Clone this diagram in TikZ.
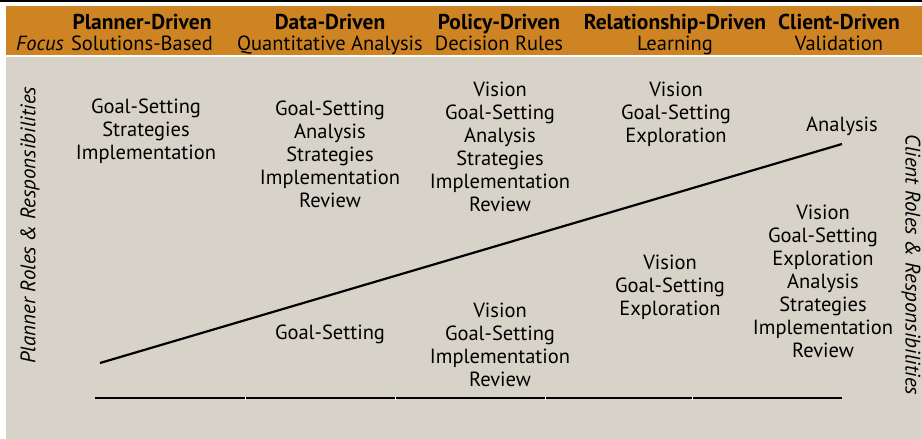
\documentclass[tikz,border=0pt]{standalone}
\usepackage{fontspec}
\setmainfont{PT Sans}
\usepackage{tikz}
\usetikzlibrary{positioning}

\definecolor{bandorange}{HTML}{CE8422}
\definecolor{panelgray}{HTML}{D7D3C8}

\tikzset{
	roles/.style={align=center, font=\fontsize{20.5}{23}\selectfont, inner sep=0pt},
	head/.style={font=\fontsize{21.5}{22}\selectfont\bfseries, inner sep=0pt},
	sub/.style={font=\fontsize{20.5}{22}\selectfont, inner sep=0pt},
	side/.style={font=\fontsize{21}{22}\selectfont\itshape, inner sep=0pt}
}

\begin{document}
\begin{tikzpicture}[x=1pt, y=-1pt]
	\useasboundingbox (0,0) rectangle (922,439);

	% Background
	\fill[white] (0,0) rectangle (922,439);
	\draw[line width=1.6pt] (0,1) -- (922,1);
	\fill[bandorange] (6,6) rectangle (922,55);
	\fill[panelgray] (6,57) rectangle (922,439);

	% Header
	\node[sub, anchor=base] (focus) at (40,50) {\itshape Focus};
	\node[head, anchor=base] (planner) at (142,29) {Planner-Driven};
	\node[head, anchor=base] (data) at (330,29) {Data-Driven};
	\node[head, anchor=base] (policy) at (499,29) {Policy-Driven};
	\node[head, anchor=base] (relation) at (675,29) {Relationship-Driven};
	\node[head, anchor=base] (client) at (839,29) {Client-Driven};
	\node[sub, anchor=base] (plannerf) at (142,50) {Solutions-Based};
	\node[sub, anchor=base] (dataf) at (330,50) {Quantitative Analysis};
	\node[sub, anchor=base] (policyf) at (499,50) {Decision Rules};
	\node[sub, anchor=base] (relationf) at (675,50) {Learning};
	\node[sub, anchor=base] (clientf) at (839,50) {Validation};

	% Side labels
	\node[side, rotate=90] (plannerside) at (30,225) {Planner Roles \& Responsibilities};
	\node[side, rotate=-90] (clientside) at (911,265) {Client Roles \& Responsibilities};

	% Planner roles (above the line)
	\node[roles] (p1) at (146,131) {Goal-Setting\\Strategies\\Implementation};
	\node[roles] (p2) at (330,154) {Goal-Setting\\Analysis\\Strategies\\Implementation\\Review};
	\node[roles] (p3) at (500,147) {Vision\\Goal-Setting\\Analysis\\Strategies\\Implementation\\Review};
	\node[roles] (p4) at (676,114) {Vision\\Goal-Setting\\Exploration};
	\node[roles] (p5) at (842,126) {Analysis};

	% Client roles (below the line)
	\node[roles] (c2) at (330,334) {Goal-Setting};
	\node[roles] (c3) at (500,345) {Vision\\Goal-Setting\\Implementation\\Review};
	\node[roles] (c4) at (670,287) {Vision\\Goal-Setting\\Exploration};
	\node[roles] (c5) at (823,281) {Vision\\Goal-Setting\\Exploration\\Analysis\\Strategies\\Implementation\\Review};

	% Dividing line
	\coordinate (low) at (100,363);
	\coordinate (high) at (842,144);
	\draw[line width=2.2pt] (low) -- (high);

	% Base line
	\coordinate (base left) at (95,398);
	\coordinate (base right) at (842,398);
	\draw[line width=2.6pt] (base left) -- (base right);
	\foreach \x in {245, 395, 545, 692}
		\draw[white, line width=0.6pt] (\x,397) -- (\x,400);
\end{tikzpicture}
\end{document}
